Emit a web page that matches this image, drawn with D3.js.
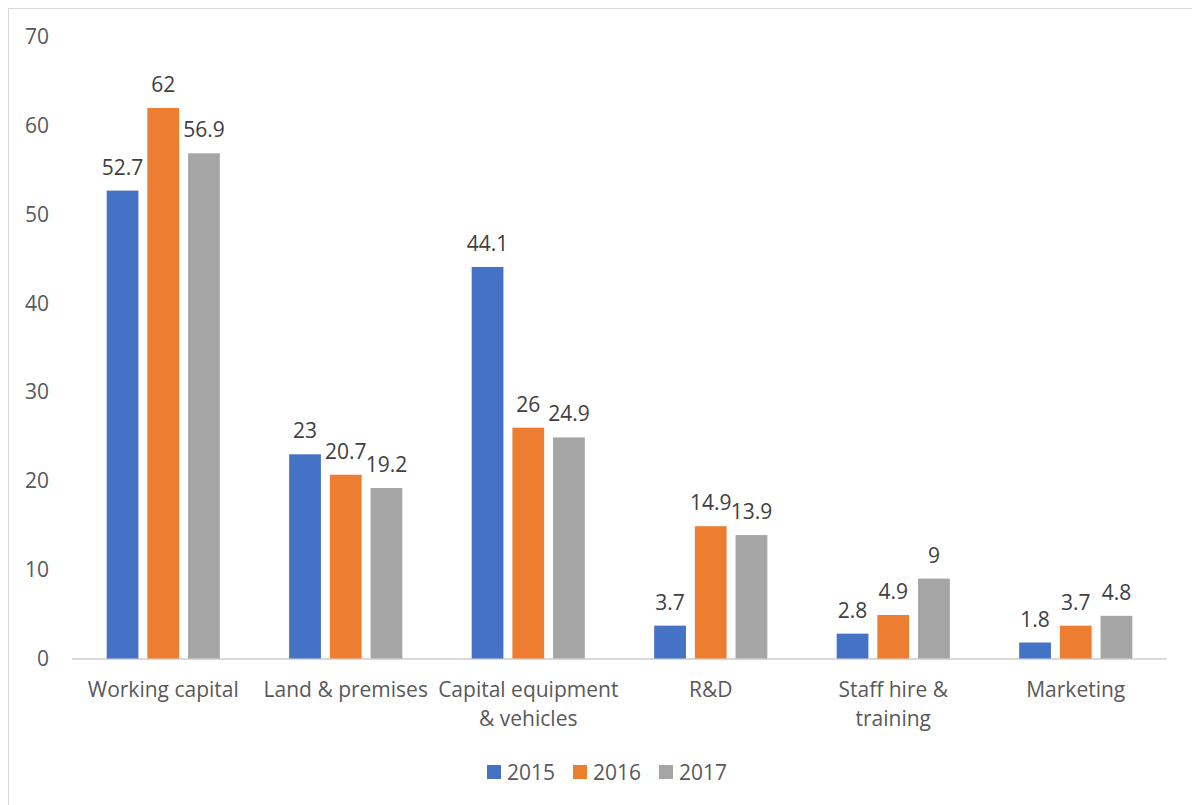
<!DOCTYPE html>
<html>
<head>
<meta charset="utf-8">
<script src="https://cdn.jsdelivr.net/npm/d3@7"></script>
<style>
  body { margin: 0; background: #fff; }
  text { font-family: "Open Sans", sans-serif; }
</style>
</head>
<body>
<div id="chart"></div>
<script>
////////////////// Data ////////////////////
var categories = ["Working capital", "Land & premises", "Capital equipment & vehicles", "R&D", "Staff hire & training", "Marketing"];
var categoryLines = [["Working capital"], ["Land & premises"], ["Capital equipment", "& vehicles"], ["R&D"], ["Staff hire &", "training"], ["Marketing"]];
var seriesNames = ["2015", "2016", "2017"];
var values2015 = [52.7, 23, 44.1, 3.7, 2.8, 1.8];
var values2016 = [62, 20.7, 26, 14.9, 4.9, 3.7];
var values2017 = [56.9, 19.2, 24.9, 13.9, 9, 4.8];
var yTicks = [0, 10, 20, 30, 40, 50, 60, 70];
var colors = ["#4472C4", "#ED7D31", "#A5A5A5"];

////////////////// Chart Parameters ////////////////////
var svgWidth = 1192;
var svgHeight = 805;
var margin = { top: 37, right: 25, bottom: 146.5, left: 72 };
var width = svgWidth - margin.left - margin.right;
var height = svgHeight - margin.top - margin.bottom;
var fontSize = "21px";

var svg = d3.select("#chart").append("svg")
  .attr("width", svgWidth)
  .attr("height", svgHeight);

// outer frame
svg.append("rect")
  .attr("x", 8.5).attr("y", 8.5)
  .attr("width", 1200).attr("height", 1200)
  .attr("fill", "none")
  .attr("stroke", "#D9D9D9");

var chartGroup = svg.append("g")
  .attr("transform", `translate(${margin.left}, ${margin.top})`);

////////// Scales //////////
var x0 = d3.scaleBand()
  .domain(categories)
  .range([0, width])
  .paddingInner(0.38)
  .paddingOuter(0.19);

var x1 = d3.scaleBand()
  .domain(seriesNames)
  .range([0, x0.bandwidth()])
  .paddingInner(0.22);

var y = d3.scaleLinear()
  .domain([0, 70])
  .range([height, 0]);

////////// Y axis labels (no line) //////////
var yAxis = d3.axisLeft(y).tickValues(yTicks).tickSize(0).tickPadding(23);
var yg = chartGroup.append("g").call(yAxis);
yg.select(".domain").remove();
yg.selectAll("text")
  .attr("fill", "#595959")
  .style("font-size", fontSize)
  .style("font-family", "'Open Sans', sans-serif");

////////// Baseline //////////
chartGroup.append("line")
  .attr("x1", 0).attr("x2", width)
  .attr("y1", y(0) + 0.5).attr("y2", y(0) + 0.5)
  .attr("stroke", "#D9D9D9")
  .attr("stroke-width", 2);

////////// Bars //////////
var allSeries = [values2015, values2016, values2017];
var rows = [];
categories.forEach(function (c, i) {
  seriesNames.forEach(function (s, j) {
    rows.push({ cat: c, series: s, value: allSeries[j][i], color: colors[j] });
  });
});

chartGroup.selectAll("rect.bar")
  .data(rows)
  .enter()
  .append("rect")
  .attr("class", "bar")
  .attr("x", d => x0(d.cat) + x1(d.series))
  .attr("y", d => y(d.value))
  .attr("width", x1.bandwidth())
  .attr("height", d => y(0) - y(d.value))
  .attr("fill", d => d.color);

////////// Value labels //////////
chartGroup.selectAll("text.value")
  .data(rows)
  .enter()
  .append("text")
  .attr("class", "value")
  .attr("x", d => x0(d.cat) + x1(d.series) + x1.bandwidth() / 2)
  .attr("y", d => y(d.value) - 16)
  .attr("text-anchor", "middle")
  .attr("fill", "#404040")
  .style("font-size", fontSize)
  .text(d => d.value);

////////// Category labels //////////
var catGroup = chartGroup.selectAll("text.cat")
  .data(categories)
  .enter()
  .append("text")
  .attr("class", "cat")
  .attr("text-anchor", "middle")
  .attr("fill", "#595959")
  .style("font-size", fontSize)
  .attr("transform", d => `translate(${x0(d) + x0.bandwidth() / 2}, ${height + 38})`);

catGroup.each(function (d, i) {
  var t = d3.select(this);
  categoryLines[i].forEach(function (line, k) {
    t.append("tspan")
      .attr("x", 0)
      .attr("y", k * 29)
      .text(line);
  });
});

////////// Legend //////////
var legendX = [487, 573, 659];
var legend = svg.selectAll("g.legend")
  .data(seriesNames)
  .enter()
  .append("g")
  .attr("class", "legend")
  .attr("transform", (d, i) => `translate(${legendX[i]}, 765)`);

legend.append("rect")
  .attr("width", 14).attr("height", 14)
  .attr("fill", (d, i) => colors[i]);

legend.append("text")
  .attr("x", 20)
  .attr("y", 14.5)
  .attr("fill", "#595959")
  .style("font-size", fontSize)
  .text(d => d);
</script>
</body>
</html>
